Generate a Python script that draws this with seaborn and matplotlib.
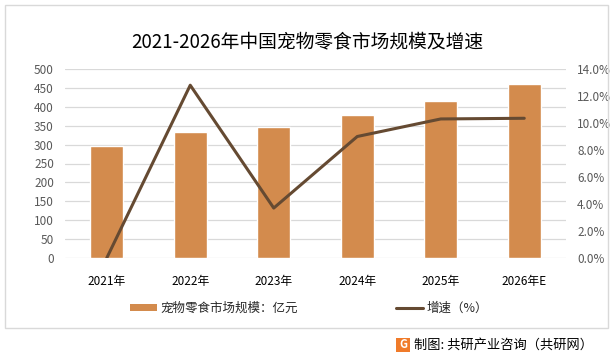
import matplotlib
matplotlib.use("Agg")
import matplotlib.pyplot as plt
import seaborn as sns
import numpy as np
import pandas as pd
from matplotlib.patches import Rectangle, Patch
from matplotlib.lines import Line2D

# chart data
years = ["2021年", "2022年", "2023年", "2024年", "2025年", "2026年E"]
market_size = [297, 334, 347, 378, 415, 460]      # 亿元
growth = [0.0, 12.8, 3.7, 9.0, 10.3, 10.35]        # %

bar_color = "#D38B4D"
line_color = "#654A32"

sns.set_theme(style="white")
plt.rcParams["font.family"] = ["Noto Sans CJK SC", "DejaVu Sans"]

fig = plt.figure(figsize=(6.15, 3.6), dpi=100)
ax = fig.add_axes([65 / 615, 102 / 360, 501 / 615, 189 / 360])

df = pd.DataFrame({"year": years, "size": market_size, "growth": growth})
sns.barplot(data=df, x="year", y="size", color=bar_color, width=0.4,
            saturation=1, ax=ax)
ax.set_ylim(0, 500)
ax.set_yticks(np.arange(0, 501, 50))
ax.set_xlim(-0.5, len(years) - 0.5)
ax.set_xlabel("")
ax.set_ylabel("")
ax.yaxis.grid(True, color="#D9D9D9", linewidth=0.9)
ax.set_axisbelow(True)
for s in ax.spines.values():
    s.set_visible(False)
ax.tick_params(axis="y", length=0, labelsize=8.5, labelcolor="#595959", pad=8)
ax.tick_params(axis="x", length=0, labelsize=8.5, labelcolor="#000000", pad=12)

ax2 = ax.twinx()
sns.lineplot(x=np.arange(len(years)), y=df["growth"], color=line_color,
             linewidth=2.2, ax=ax2)
ax2.set_ylim(0, 14)
ax2.set_yticks(np.arange(0, 15, 2))
ax2.set_yticklabels([f"{v:.1f}%" for v in np.arange(0, 15, 2)])
ax2.set_ylabel("")
for s in ax2.spines.values():
    s.set_visible(False)
ax2.tick_params(axis="y", length=0, labelsize=8.5, labelcolor="#595959", pad=8)
ax2.grid(False)

fig.text(0.5, 1 - 42 / 360, "2021-2026年中国宠物零食市场规模及增速",
         ha="center", va="center", fontsize=13.5, color="#000000")

handles = [Patch(facecolor=bar_color, edgecolor="none"),
           Line2D([0], [0], color=line_color, linewidth=2.2)]
fig.legend(handles, ["宠物零食市场规模：亿元", "增速（%）"], loc="center",
           bbox_to_anchor=(309 / 615, 1 - 308 / 360), ncol=2, frameon=False,
           fontsize=9, handlelength=2.2, handleheight=0.5, columnspacing=7.8,
           handletextpad=0.3)

# outer frame
fig.patches.append(Rectangle((5 / 615, 1 - 328 / 360), 603 / 615, 323 / 360,
                             transform=fig.transFigure, fill=False,
                             edgecolor="#D9D9D9", linewidth=1))

# footer with logo
fig.patches.append(Rectangle((396 / 615, 1 - 352 / 360), 14 / 615, 14 / 360,
                             transform=fig.transFigure, facecolor="#F07B2A",
                             edgecolor="none"))
fig.text(403 / 615, 1 - 345 / 360, "G", ha="center", va="center",
         fontsize=8, color="white", fontweight="bold")
fig.text(414 / 615, 1 - 345 / 360, "制图: 共研产业咨询（共研网）",
         ha="left", va="center", fontsize=9.5, color="#000000")

fig.savefig("out.png", dpi=100)
